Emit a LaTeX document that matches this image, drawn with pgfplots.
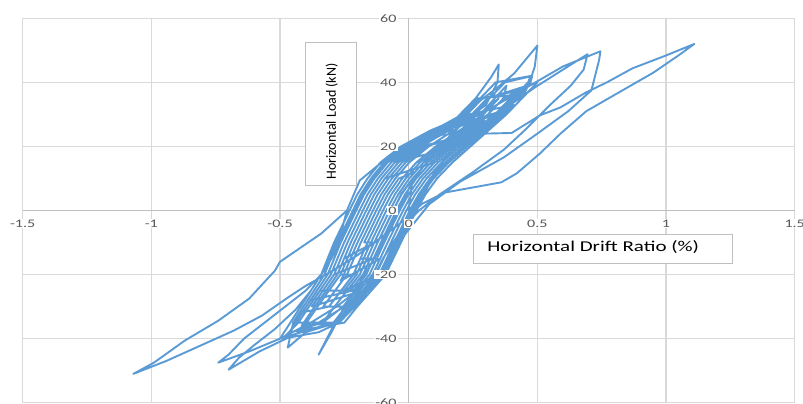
\documentclass[border=0pt]{standalone}
\usepackage{pgfplots}
\pgfplotsset{compat=1.18}
\usepackage{fontspec}
\newfontfamily\tickfont[FakeStretch=1.4]{Carlito}
\newfontfamily\xlabfont[FakeStretch=1.4]{Carlito}
\newfontfamily\ylabfont{Carlito}
\definecolor{xlblue}{HTML}{5B9BD5}
\definecolor{gridc}{HTML}{D9D9D9}
\definecolor{axc}{HTML}{BFBFBF}
\definecolor{tickc}{HTML}{595959}
\pgfplotsset{
  layers/mylayers/.define layer set={
    axis background,axis grid,axis ticks,axis lines,pre main,main,axis tick labels,axis descriptions,axis foreground
  }{/pgfplots/layers/standard},
}
\begin{document}
\begin{tikzpicture}
\begin{axis}[
  set layers=mylayers,
  scale only axis, width=772pt, height=384.4pt,
  xmin=-1.5, xmax=1.5, ymin=-60, ymax=60,
  axis lines=middle,
  hide obscured x ticks=false, hide obscured y ticks=false,
  axis line style={-, draw=axc, line width=1pt},
  grid=major, grid style={draw=gridc, line width=1.2pt},
  xtick={-1.5,-1,-0.5,0,0.5,1,1.5},
  xticklabels={-1.5,-1,-0.5,0,0.5,1,1.5},
  ytick={-60,-40,-20,0,20,40,60},
  yticklabels={-60,-40,-20,0,20,40,60},
  major tick length=0pt,
  xticklabel style={font=\tickfont\fontsize{11.5}{12}\selectfont, text=tickc, fill=white, inner sep=1pt, yshift=-8pt},
  yticklabel style={font=\tickfont\fontsize{11.5}{12}\selectfont, text=tickc, fill=white, inner sep=1pt, xshift=-11pt},
  clip=false,
]
\addplot[xlblue, line width=1.9pt, line join=round, line cap=round] coordinates {
(0,0) (0.015,10) (-0.03,5) (-0.06,0) (-0.09,-5) (-0.121,-10)
(-0.173,-10) (-0.143,-5) (-0.113,0) (-0.081,5) (-0.0385,10) (0.024,12) (0.002,10) (-0.041,5) (-0.074,0) (-0.104,-5) (-0.134,-10)
(-0.251,-15)
(-0.225,-10) (-0.195,-5) (-0.165,0) (-0.134,5) (-0.0925,10) (0.1,15)
(0.0425,10) (-0.001,5) (-0.035,0) (-0.065,-5) (-0.095,-10) (-0.124,-15)
(-0.1875,-15) (-0.16,-10) (-0.13,-5) (-0.1,0) (-0.0675,5) (-0.025,10) (0.03,15) (0.13,18) (0.086,15) (0.029,10) (-0.0145,5) (-0.048,0) (-0.078,-5) (-0.108,-10) (-0.1365,-15)
(-0.29,-20)
(-0.264,-15) (-0.238,-10) (-0.208,-5) (-0.178,0) (-0.147,5) (-0.106,10) (-0.054,15) (0.186,20)
(0.114,15) (0.056,10) (0.012,5) (-0.022,0) (-0.052,-5) (-0.082,-10) (-0.111,-15)
(-0.265,-22) (-0.2525,-20) (-0.226,-15) (-0.199,-10) (-0.169,-5) (-0.139,0) (-0.107,5) (-0.0655,10) (-0.012,15) (0.0645,20) (0.155,22) (0.1185,20) (0.044,15) (-0.0115,10) (-0.054,5) (-0.087,0) (-0.117,-5) (-0.147,-10) (-0.175,-15) (-0.2025,-20)
(-0.265,-20)
(-0.2385,-15) (-0.212,-10) (-0.182,-5) (-0.152,0) (-0.1205,5) (-0.079,10) (-0.026,15) (0.051,20) (0.2875,25)
(0.213,20) (0.142,15) (0.083,10) (0.0385,5) (0.004,0) (-0.026,-5) (-0.056,-10) (-0.0855,-15) (-0.115,-20)
(-0.251,-25) (-0.2025,-20) (-0.175,-15) (-0.147,-10) (-0.117,-5) (-0.087,0) (-0.054,5) (-0.0115,10) (0.044,15) (0.1185,20) (0.209,25) (0.317,30) (0.231,25) (0.1455,20) (0.072,15) (0.0155,10) (-0.028,5) (-0.061,0) (-0.091,-5) (-0.121,-10) (-0.149,-15) (-0.1775,-20) (-0.227,-25)
(-0.345,-25)
(-0.3025,-20) (-0.277,-15) (-0.251,-10) (-0.221,-5) (-0.191,0) (-0.16,5) (-0.1195,10) (-0.068,15) (0.0105,20) (0.119,25) (0.294,28)
(0.2425,25) (0.159,20) (0.086,15) (0.029,10) (-0.0145,5) (-0.048,0) (-0.078,-5) (-0.108,-10) (-0.1365,-15) (-0.165,-20) (-0.2155,-25) (-0.381,-28)
(-0.3565,-25) (-0.315,-20) (-0.2895,-15) (-0.264,-10) (-0.234,-5) (-0.204,0) (-0.1735,5) (-0.133,10) (-0.082,15) (-0.003,20) (0.1075,25) (0.353,30)
(0.276,25) (0.1995,20) (0.128,15) (0.0695,10) (0.025,5) (-0.009,0) (-0.039,-5) (-0.069,-10) (-0.098,-15) (-0.1275,-20) (-0.18,-25) (-0.376,-30)
(-0.333,-25) (-0.29,-20) (-0.264,-15) (-0.238,-10) (-0.208,-5) (-0.178,0) (-0.147,5) (-0.106,10) (-0.054,15) (0.024,20) (0.13,25) (0.236,30) (0.407,33)
(0.371,30) (0.299,25) (0.2265,20) (0.156,15) (0.0965,10) (0.052,5) (0.017,0) (-0.013,-5) (-0.043,-10) (-0.073,-15) (-0.1025,-20) (-0.157,-25) (-0.211,-30)
(-0.332,-30) (-0.286,-25) (-0.24,-20) (-0.213,-15) (-0.186,-10) (-0.156,-5) (-0.126,0) (-0.094,5) (-0.052,10) (0.002,15) (0.078,20) (0.175,25) (0.272,30) (0.35,35) (0.29,30) (0.1975,25) (0.105,20) (0.03,15) (-0.025,10) (-0.0675,5) (-0.1,0) (-0.13,-5) (-0.16,-10) (-0.1875,-15) (-0.215,-20) (-0.2625,-25) (-0.31,-30)
(-0.425,-32)
(-0.409,-30) (-0.368,-25) (-0.3275,-20) (-0.302,-15) (-0.277,-10) (-0.247,-5) (-0.217,0) (-0.187,5) (-0.1465,10) (-0.096,15) (-0.0165,20) (0.096,25) (0.209,30) (0.269,35) (0.407,36)
(0.395,35) (0.335,30) (0.254,25) (0.1725,20) (0.1,15) (0.0425,10) (-0.001,5) (-0.035,0) (-0.065,-5) (-0.095,-10) (-0.124,-15) (-0.1525,-20) (-0.204,-25) (-0.255,-30)
(-0.334,-35) (-0.288,-30) (-0.239,-25) (-0.19,-20) (-0.162,-15) (-0.134,-10) (-0.104,-5) (-0.074,0) (-0.041,5) (0.002,10) (0.058,15) (0.132,20) (0.22,25) (0.308,30) (0.368,35) (0.44,38) (0.404,35) (0.344,30) (0.265,25) (0.186,20) (0.114,15) (0.056,10) (0.012,5) (-0.022,0) (-0.052,-5) (-0.082,-10) (-0.111,-15) (-0.14,-20) (-0.192,-25) (-0.244,-30) (-0.292,-35)
(-0.4285,-35)
(-0.387,-30) (-0.345,-25) (-0.3025,-20) (-0.277,-15) (-0.251,-10) (-0.221,-5) (-0.191,0) (-0.16,5) (-0.1195,10) (-0.068,15) (0.0105,20) (0.119,25) (0.227,30) (0.287,35) (0.458,38)
(0.422,35) (0.362,30) (0.2875,25) (0.213,20) (0.142,15) (0.083,10) (0.0385,5) (0.004,0) (-0.026,-5) (-0.056,-10) (-0.0855,-15) (-0.115,-20) (-0.1685,-25) (-0.222,-30) (-0.271,-35) (-0.416,-36)
(-0.365,-30) (-0.321,-25) (-0.2775,-20) (-0.251,-15) (-0.225,-10) (-0.195,-5) (-0.165,0) (-0.134,5) (-0.0925,10) (-0.04,15) (0.0375,20) (0.141,25) (0.245,30) (0.305,35) (0.5,40)
(0.44,35) (0.38,30) (0.31,25) (0.24,20) (0.17,15) (0.11,10) (0.065,5) (0.03,0) (0.0,-5) (-0.03,-10) (-0.06,-15) (-0.09,-20) (-0.145,-25) (-0.2,-30) (-0.25,-35) (-0.464,-38)
(-0.439,-35) (-0.398,-30) (-0.3565,-25) (-0.315,-20) (-0.2895,-15) (-0.264,-10) (-0.234,-5) (-0.204,0) (-0.1735,5) (-0.133,10) (-0.082,15) (-0.003,20) (0.1075,25) (0.218,30) (0.278,35) (0.338,40) (0.474,42)
(0.464,40) (0.404,35) (0.344,30) (0.265,25) (0.186,20) (0.114,15) (0.056,10) (0.012,5) (-0.022,0) (-0.052,-5) (-0.082,-10) (-0.111,-15) (-0.14,-20) (-0.192,-25) (-0.244,-30) (-0.292,-35) (-0.5,-40)
(-0.46,-35) (-0.42,-30) (-0.38,-25) (-0.34,-20) (-0.315,-15) (-0.29,-10) (-0.26,-5) (-0.23,0) (-0.2,5) (-0.16,10) (-0.11,15) (-0.03,20) (0.085,25) (0.175,28) (0.26,35) (0.32,41.6) (0.35,45.6)
(0.345,40) (0.3,33) (0.22,28) (0.12,20) (0.02,10) (-0.04,0) (-0.1,-10) (-0.17,-20) (-0.25,-30) (-0.3,-38) (-0.35,-45)
(-0.29,-35.6) (-0.2,-28) (-0.11,-21.7) (-0.045,-11.5) (0.006,-3) (0.06,5) (0.1,12) (0.2,22) (0.3,32) (0.38,39)
(0.368,35) (0.308,30) (0.22,25) (0.132,20) (0.058,15) (0.002,10) (-0.041,5) (-0.074,0) (-0.104,-5) (-0.134,-10) (-0.162,-15) (-0.19,-20) (-0.239,-25) (-0.288,-30) (-0.334,-35) (-0.42,-37)
(-0.397,-35) (-0.354,-30) (-0.31,-25) (-0.265,-20) (-0.2385,-15) (-0.212,-10) (-0.182,-5) (-0.152,0) (-0.1205,5) (-0.079,10) (-0.026,15) (0.051,20) (0.1525,25) (0.254,30) (0.314,35) (0.374,40) (0.48,42)
(0.473,40) (0.413,35) (0.353,30) (0.276,25) (0.1995,20) (0.128,15) (0.0695,10) (0.025,5) (-0.009,0) (-0.039,-5) (-0.069,-10) (-0.098,-15) (-0.1275,-20) (-0.18,-25) (-0.233,-30) (-0.28,-35) (-0.4,-38) (-0.47,-42.8)
(-0.449,-35) (-0.409,-30) (-0.368,-25) (-0.3275,-20) (-0.302,-15) (-0.277,-10) (-0.247,-5) (-0.217,0) (-0.187,5) (-0.1465,10) (-0.096,15) (-0.0165,20) (0.163,25) (0.21,29) (0.28,34.4) (0.345,38.4) (0.41,42.8) (0.5,51.5)
(0.49,45) (0.47,40) (0.44,35) (0.38,30) (0.3,25) (0.22,20) (0.15,15) (0.09,10) (0.045,5) (0.01,0) (-0.02,-5) (-0.05,-10) (-0.08,-15) (-0.11,-20) (-0.16,-25) (-0.21,-30) (-0.27,-35) (-0.35,-38) (-0.49,-40)
(-0.4285,-35) (-0.387,-30) (-0.345,-25) (-0.3025,-20) (-0.277,-15) (-0.251,-10) (-0.221,-5) (-0.191,0) (-0.16,5) (-0.1195,10) (-0.068,15) (0.0105,20) (0.2,27) (0.36,31) (0.49,38.4) (0.6,44) (0.695,48.8)
(0.68,44) (0.63,39) (0.55,33) (0.45,25) (0.37,19) (0.25,12) (0.12,5) (0.04,0) (-0.02,-5) (-0.06,-10) (-0.1,-15) (-0.13,-20) (-0.2,-25) (-0.28,-30) (-0.38,-35) (-0.5,-40) (-0.62,-44) (-0.74,-47.5)
(-0.7,-45) (-0.64,-40) (-0.56,-35) (-0.48,-30) (-0.4,-25) (-0.34,-20) (-0.3,-15) (-0.27,-10) (-0.24,-5) (-0.21,0) (-0.18,5) (-0.14,10) (-0.09,15) (0.0,20) (0.15,26) (0.3,31) (0.45,38) (0.6,45) (0.745,49.7)
(0.74,47) (0.71,37.5) (0.62,31) (0.5,24) (0.37,16.6) (0.2,9) (0.08,2) (0.03,-3) (-0.02,-8) (-0.07,-15) (-0.12,-20) (-0.18,-25) (-0.25,-30) (-0.35,-35) (-0.45,-39) (-0.58,-44) (-0.7,-49.7)
(-0.66,-46) (-0.6,-42) (-0.52,-37) (-0.44,-31) (-0.38,-25) (-0.34,-20) (-0.3,-13) (-0.26,-6) (-0.24,0)
(-0.19,9.4) (-0.11,14.7) (0,18.7) (0.13,23.7) (0.4,24.2) (0.51,29.7) (0.59,32.2) (0.69,36.9) (0.77,40) (0.87,44.4) (1.0,48.4) (1.11,52)
(1.05,48.5) (0.95,43) (0.85,38.4) (0.69,31) (0.59,24) (0.51,17.8) (0.42,11.6) (0.36,8.8) (0.25,7.2) (0.14,5.6) (0.05,2) (0,-2) (-0.1,-8) (-0.2,-14) (-0.3,-19) (-0.4,-23.5) (-0.47,-27.2) (-0.57,-32.8) (-0.68,-37.5) (-0.81,-42.2) (-0.94,-46.9) (-1.07,-51)
(-0.99,-47.5) (-0.87,-40.6) (-0.74,-34.4) (-0.62,-27.5) (-0.52,-18.8) (-0.5,-16) (-0.34,-7.2) (-0.24,0) (-0.19,9.4) (-0.11,14.7) (0,18.7) (0.13,23.7)
};
\draw[axc, line width=1pt, fill=white] (axis cs:-0.402,52.6) rectangle (axis cs:-0.204,7.96);
\node[rotate=90, font=\ylabfont\fontsize{14}{16}\selectfont, text=black] at (axis cs:-0.299,27.8) {Horizontal Load (kN)};
\draw[axc, line width=1pt, fill=white] (axis cs:0.251,-7.34) rectangle (axis cs:1.257,-16.39);
\node[anchor=west, inner sep=0pt, font=\xlabfont\fontsize{15}{17}\selectfont, text=black] at (axis cs:0.305,-11.4) {Horizontal Drift Ratio (\%)};
\coordinate (bl) at (rel axis cs:0,0);
\end{axis}
\pgfresetboundingbox
\path (bl) ++(-22.7pt,-1.3pt) rectangle ++(803pt,404pt);
\end{tikzpicture}
\end{document}
